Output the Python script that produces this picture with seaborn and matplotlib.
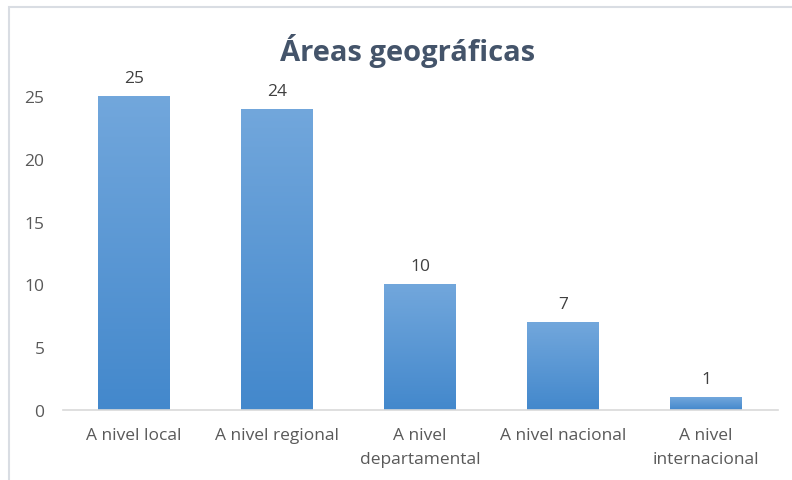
import matplotlib
matplotlib.use('Agg')
from matplotlib import pyplot as plt
from matplotlib.patches import Rectangle
from matplotlib.colors import LinearSegmentedColormap
import seaborn as sns
import numpy as np
import pandas as pd

categories = ['A nivel local', 'A nivel regional', 'A nivel\ndepartamental',
              'A nivel nacional', 'A nivel\ninternacional']
values = [25, 24, 10, 7, 1]
y_ticks = [0, 5, 10, 15, 20, 25]
title = 'Áreas geográficas'

data = pd.DataFrame({'area': categories, 'count': values})

sns.set_style('white')
plt.rcParams['font.family'] = ['Open Sans', 'DejaVu Sans']

fig = plt.figure(figsize=(7.92, 4.81), dpi=100)
ax = fig.add_axes([0.079, 0.1455, 0.9027, 0.6528])

sns.barplot(data=data, x='area', y='count', color='#5b9bd5', width=0.5,
            saturation=1, ax=ax)

# gradient fill like the original
cmap = LinearSegmentedColormap.from_list('bar', ['#4388cc', '#72a7dc'])
grad = np.linspace(0, 1, 256).reshape(-1, 1)
for bar in ax.patches:
    x0, y0 = bar.get_x(), bar.get_y()
    w, h = bar.get_width(), bar.get_height()
    bar.set_facecolor('none')
    bar.set_edgecolor('none')
    im = ax.imshow(grad, cmap=cmap, origin='lower', aspect='auto',
                   extent=(x0, x0 + w, y0, y0 + h), zorder=2)
    im.set_clip_path(bar)
    ax.text(x0 + w / 2, h + 0.8, str(int(h)), ha='center', va='bottom',
            fontsize=12.5, color='#404040')

ax.set_xlim(-0.5, len(categories) - 0.5)
ax.set_ylim(0, 25)
ax.set_yticks(y_ticks)
ax.set_xlabel('')
ax.set_ylabel('')
ax.tick_params(axis='both', length=0, labelsize=12.5, colors='#595959')
ax.tick_params(axis='x', pad=12)
ax.tick_params(axis='y', pad=13)
for lbl in ax.get_xticklabels():
    lbl.set_linespacing(1.7)
for side in ['top', 'right', 'left']:
    ax.spines[side].set_visible(False)
ax.spines['bottom'].set_color('#d9d9d9')
ax.spines['bottom'].set_linewidth(1.2)

fig.text(0.515, 0.895, title, ha='center', va='center', fontsize=21,
         fontweight='bold', color='#44546a')

# chart frame (cut off at right and bottom)
fig.add_artist(Rectangle((9 / 792, -0.1), 1.2, 1 - 8 / 481 + 0.1,
                         transform=fig.transFigure, fill=False,
                         edgecolor='#d9dde3', linewidth=1.5))

fig.savefig('out.png', dpi=100)
